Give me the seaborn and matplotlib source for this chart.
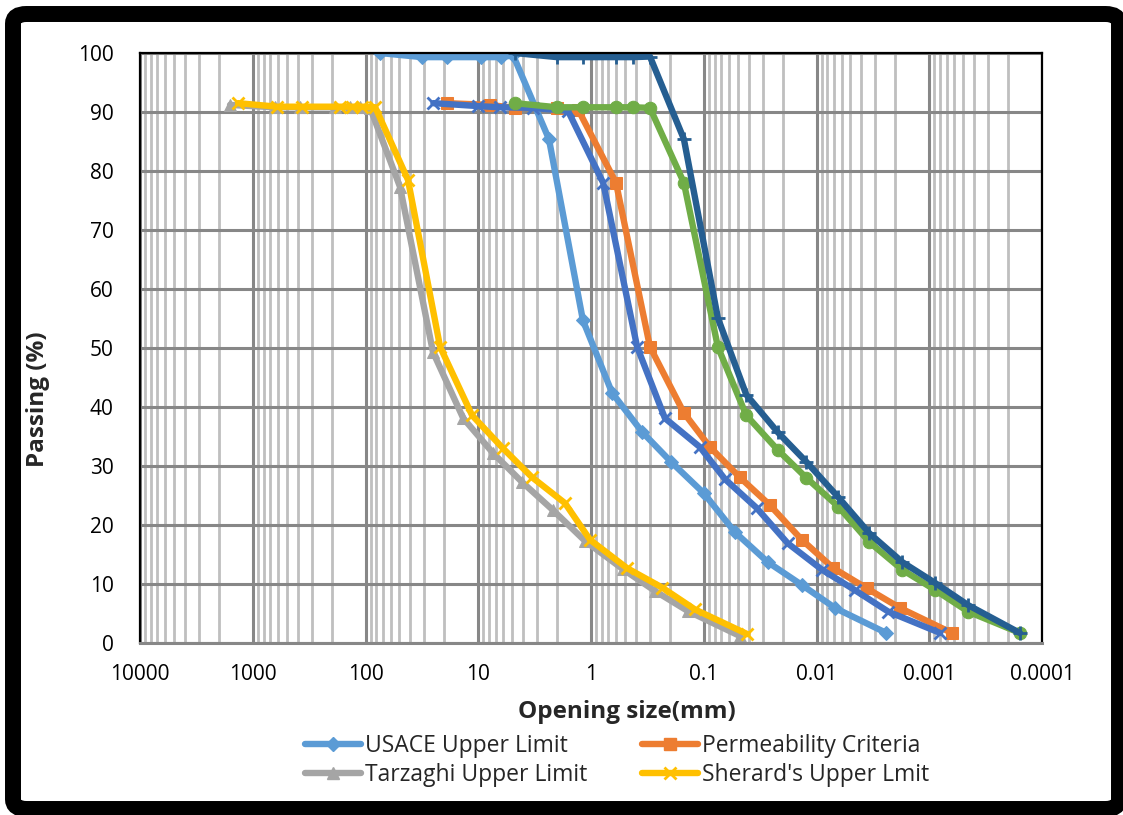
import numpy as np
import pandas as pd
import matplotlib
matplotlib.use("Agg")
import matplotlib.pyplot as plt
import seaborn as sns
from matplotlib.ticker import FixedLocator, FixedFormatter, LogLocator, NullFormatter
from matplotlib.patches import FancyBboxPatch
from matplotlib.lines import Line2D

# ---- grading curves: opening size (mm) and percent passing ----
usace_size = [75, 31.5, 19, 9.5, 6.3, 4.9, 2.36, 1.18, 0.65, 0.353, 0.195, 0.10,
              0.053, 0.027, 0.0134, 0.0068, 0.0024]
usace_pass = [100, 99.3, 99.3, 99.3, 99.3, 99.6, 85.4, 54.7, 42.4, 35.8, 30.7, 25.4,
              18.8, 13.7, 9.8, 5.9, 1.7]

perm_size = [19, 7.9, 4.75, 2.0, 1.3, 0.6, 0.3, 0.15, 0.088, 0.048, 0.026, 0.0135,
             0.0071, 0.0036, 0.0018, 0.00063]
perm_pass = [91.5, 91.2, 90.7, 90.7, 90.4, 78.0, 50.2, 39.0, 33.2, 28.1, 23.4, 17.5,
             12.7, 9.3, 5.9, 1.7]

terz_size = [1590, 635, 381, 186, 137, 112, 91, 49.4, 25.2, 13.6, 7.4, 4.1, 2.17,
             1.13, 0.52, 0.27, 0.138, 0.048]
terz_pass = [91.2, 90.8, 90.8, 90.8, 90.8, 90.8, 90.7, 77.3, 49.3, 38.1, 32.2, 27.3,
             22.5, 17.3, 12.5, 8.8, 5.4, 1.2]

sherard_size = [1350, 609, 366, 168, 132, 107, 82, 42, 21.8, 11.35, 6.04, 3.34, 1.70,
                1.02, 0.48, 0.234, 0.120, 0.041]
sherard_pass = [91.5, 90.9, 90.9, 90.9, 90.9, 90.9, 90.8, 78.5, 50.2, 38.6, 33.0, 28.1,
                23.7, 17.5, 12.7, 9.4, 5.7, 1.5]

blue_size = [25, 10, 6.4, 3.3, 1.6, 0.78, 0.39, 0.221, 0.108, 0.065, 0.034, 0.018,
             0.0089, 0.0046, 0.0023, 0.0008]
blue_pass = [91.5, 91.0, 90.8, 90.7, 90.2, 78.0, 50.2, 38.1, 33.2, 27.8, 22.9, 16.9,
             12.4, 9.0, 5.3, 1.7]

green_size = [4.75, 2.0, 1.18, 0.6, 0.425, 0.3, 0.15, 0.075, 0.042, 0.022, 0.0123,
              0.0064, 0.0034, 0.00173, 0.00089, 0.00045, 0.000157]
green_pass = [91.5, 90.8, 90.8, 90.8, 90.8, 90.7, 78.0, 50.2, 38.6, 32.7, 28.0, 23.1,
              17.1, 12.4, 9.0, 5.3, 1.7]

navy_size = [4.75, 2.0, 1.18, 0.6, 0.425, 0.3, 0.15, 0.075, 0.042, 0.022, 0.0123,
             0.0064, 0.0034, 0.00173, 0.00089, 0.00045, 0.000157]
navy_pass = [100, 99.3, 99.3, 99.3, 99.3, 99.4, 85.4, 55.1, 42.1, 35.7, 30.7, 24.7,
             18.6, 13.7, 10.2, 6.4, 1.7]

x_ticks = [10000, 1000, 100, 10, 1, 0.1, 0.01, 0.001, 0.0001]
x_tick_labels = ["10000", "1000", "100", "10", "1", "0.1", "0.01", "0.001", "0.0001"]
y_ticks = list(range(0, 101, 10))

series = [
    ("USACE Upper Limit", usace_size, usace_pass, "#5B9BD5", "D", 7, 0),
    ("Permeability Criteria", perm_size, perm_pass, "#ED7D31", "s", 8, 0),
    ("Tarzaghi Upper Limit", terz_size, terz_pass, "#A5A5A5", "^", 8, 0),
    ("Sherard's Upper Lmit", sherard_size, sherard_pass, "#FFC000", "x", 9, 2),
    ("_blue", blue_size, blue_pass, "#4472C4", "x", 9, 2),
    ("_green", green_size, green_pass, "#70AD47", "o", 9, 0),
    ("_navy", navy_size, navy_pass, "#255E91", "+", 10, 2),
]

sns.set_style("white")
plt.rcParams["font.family"] = ["Open Sans", "DejaVu Sans"]

fig = plt.figure(figsize=(11.23, 8.15), dpi=100)
ax = fig.add_axes([140 / 1123, 1 - 643 / 815, (1042 - 140) / 1123, (643 - 53) / 815])

LW = 4.6
handles = {}
for name, xs, ys, color, marker, msize, mew in series:
    df = pd.DataFrame({"size": xs, "passing": ys})
    kw = dict(marker=marker, markersize=msize, markerfacecolor=color,
              markeredgecolor=color)
    if mew:
        kw["markeredgewidth"] = mew
    sns.lineplot(data=df, x="size", y="passing", sort=False, color=color,
                 linewidth=LW, ax=ax, legend=False, **kw)
    if not name.startswith("_"):
        handles[name] = Line2D([0], [0], color=color, linewidth=LW,
                               solid_capstyle="round", **kw)

ax.set_xscale("log")
ax.set_xlim(10000, 0.0001)
ax.set_ylim(0, 100)

ax.xaxis.set_major_locator(FixedLocator(x_ticks))
ax.xaxis.set_major_formatter(FixedFormatter(x_tick_labels))
ax.xaxis.set_minor_locator(LogLocator(base=10, subs=np.arange(2, 10), numticks=100))
ax.xaxis.set_minor_formatter(NullFormatter())
ax.set_yticks(y_ticks)

ax.grid(True, which="minor", axis="x", color="#BFBFBF", linewidth=2.0, zorder=0)
ax.grid(True, which="major", axis="x", color="#878787", linewidth=2.2, zorder=0)
ax.grid(True, which="major", axis="y", color="#878787", linewidth=2.2, zorder=0)
ax.set_axisbelow(True)

ax.tick_params(axis="both", which="both", length=0, labelsize=15, colors="black")
ax.tick_params(axis="y", pad=19)
ax.tick_params(axis="x", pad=15)

for side in ("left", "top", "right"):
    ax.spines[side].set_color("black")
    ax.spines[side].set_linewidth(1.6)
ax.spines["bottom"].set_color("#878787")
ax.spines["bottom"].set_linewidth(2.2)

ax.set_xlabel("")
ax.set_ylabel("")
fig.text(627 / 1123, 1 - 712 / 815, "Opening size(mm)", ha="center", va="center",
         fontsize=17.5, fontweight="bold")
fig.text(38 / 1123, 1 - 399 / 815, "Passing (%)", ha="center", va="center",
         fontsize=17.5, fontweight="bold", rotation=90)

order = ["USACE Upper Limit", "Tarzaghi Upper Limit",
         "Permeability Criteria", "Sherard's Upper Lmit"]
fig.legend([handles[k] for k in order], order, ncol=2, loc="upper center",
           bbox_to_anchor=(617 / 1123, 1 - 725 / 815), frameon=False,
           fontsize=16.5, handlelength=2.45, handletextpad=0.15,
           columnspacing=2.4, labelspacing=0.2, borderaxespad=0)

# thick rounded frame around the whole figure
frame = FancyBboxPatch((13 / 1123, 1 - 809 / 815), (1119 - 13) / 1123,
                       (809 - 14) / 815, boxstyle="round,pad=0,rounding_size=0.012",
                       transform=fig.transFigure, facecolor="none",
                       edgecolor="black", linewidth=11.5, zorder=10)
fig.patches.append(frame)

fig.savefig("out.png", dpi=100)
